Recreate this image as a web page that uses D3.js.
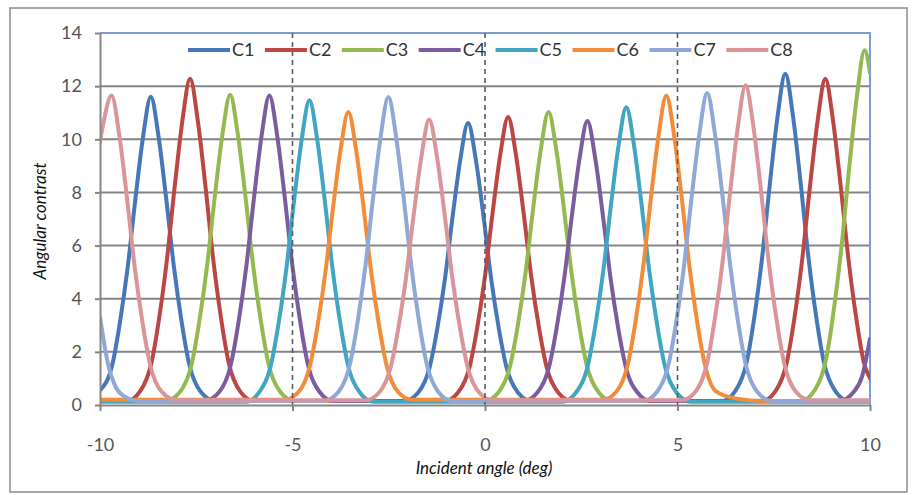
<!DOCTYPE html>
<html><head><meta charset="utf-8">
<script src="https://cdn.jsdelivr.net/npm/d3@7"></script>
<style>
body{margin:0;background:#fff;}
svg{display:block;}
text{font-family:Lato,"Open Sans",sans-serif;}
</style>
</head><body>
<svg id="chart" width="913" height="495"></svg>
<script>
// ---- data ----
const seriesNames = ["C1","C2","C3","C4","C5","C6","C7","C8"];
const xTicks = [-10,-5,0,5,10];
const yTicks = [0,2,4,6,8,10,12,14];
const dashedAngles = [-5,0,5];
const xTitle = "Incident angle (deg)";
const yTitle = "Angular contrast";

const c1 = [[-10,0.55],[-9.68,1.52],[-9.48,3.13],[-9.28,5.19],[-9.08,7.76],[-8.88,10.11],[-8.68,11.6],[-8.48,10.11],[-8.28,7.76],[-8.08,5.19],[-7.88,3.13],[-7.68,1.52],[-7.38,0.49],[-7.0,0.15],[-2.1,0.15],
[-1.74,0.46],[-1.44,1.41],[-1.24,2.87],[-1.04,4.75],[-0.84,7.11],[-0.64,9.25],[-0.44,10.61],[-0.24,9.25],[-0.04,7.11],[0.16,4.75],[0.36,2.87],[0.56,1.41],[0.86,0.46],[1.2,0.15],[6.15,0.15],
[6.50,0.52],[6.80,1.63],[7.00,3.35],[7.20,5.57],[7.40,8.34],[7.60,10.87],[7.80,12.47],[8.00,10.87],[8.20,8.34],[8.40,5.57],[8.60,3.35],[8.80,1.63],[9.10,0.52],[9.45,0.15],[10,0.15]];

const c2 = [[-10,0.15],[-9.3,0.15],[-8.96,0.51],[-8.66,1.61],[-8.46,3.30],[-8.26,5.49],[-8.06,8.22],[-7.86,10.70],[-7.66,12.28],[-7.46,10.70],[-7.26,8.22],[-7.06,5.49],[-6.86,3.30],[-6.66,1.61],[-6.36,0.51],[-6.0,0.15],
[-1.05,0.15],[-0.70,0.47],[-0.40,1.43],[-0.20,2.93],[0.00,4.85],[0.20,7.26],[0.40,9.45],[0.60,10.84],[0.80,9.45],[1.00,7.26],[1.20,4.85],[1.40,2.93],[1.60,1.43],[1.90,0.47],[2.25,0.15],
[7.2,0.15],[7.54,0.51],[7.84,1.61],[8.04,3.30],[8.24,5.49],[8.44,8.22],[8.64,10.70],[8.84,12.28],[9.04,10.70],[9.24,8.22],[9.44,5.49],[9.64,3.30],[9.84,1.61],[10,1.0]];

const c3 = [[-10,0.15],[-8.3,0.15],[-7.92,0.50],[-7.62,1.53],[-7.42,3.15],[-7.22,5.22],[-7.02,7.82],[-6.82,10.18],[-6.62,11.68],[-6.42,10.18],[-6.22,7.82],[-6.02,5.22],[-5.82,3.15],[-5.62,1.53],[-5.32,0.50],[-4.95,0.15],
[0.0,0.15],[0.35,0.48],[0.65,1.46],[0.85,2.98],[1.05,4.94],[1.25,7.39],[1.45,9.62],[1.65,11.03],[1.85,9.62],[2.05,7.39],[2.25,4.94],[2.45,2.98],[2.65,1.46],[2.95,0.48],[3.3,0.15],
[8.2,0.15],[8.56,0.55],[8.86,1.73],[9.06,3.58],[9.26,5.96],[9.46,8.93],[9.66,11.63],[9.86,13.35],[10,12.5]];

const c4 = [[-10,0.15],[-7.3,0.15],[-6.90,0.50],[-6.60,1.53],[-6.40,3.14],[-6.20,5.21],[-6.00,7.80],[-5.80,10.16],[-5.60,11.65],[-5.40,10.16],[-5.20,7.80],[-5.00,5.21],[-4.80,3.14],[-4.60,1.53],[-4.30,0.50],[-3.95,0.15],
[1.0,0.15],[1.36,0.47],[1.66,1.41],[1.86,2.89],[2.06,4.79],[2.26,7.16],[2.46,9.32],[2.66,10.69],[2.86,9.32],[3.06,7.16],[3.26,4.79],[3.46,2.89],[3.66,1.41],[3.96,0.47],[4.3,0.15],
[9.2,0.15],[9.58,0.5],[9.8,1.1],[10,2.5]];

const c5 = [[-10,0.12],[-6.2,0.12],[-5.86,0.49],[-5.56,1.51],[-5.36,3.09],[-5.16,5.13],[-4.96,7.68],[-4.76,10.00],[-4.56,11.47],[-4.36,10.00],[-4.16,7.68],[-3.96,5.13],[-3.76,3.09],[-3.56,1.51],[-3.26,0.49],[-2.9,0.12],
[2.0,0.12],[2.37,0.48],[2.67,1.48],[2.87,3.03],[3.07,5.02],[3.27,7.50],[3.47,9.77],[3.67,11.21],[3.87,9.77],[4.07,7.50],[4.27,5.02],[4.47,3.03],[4.67,1.48],[4.97,0.48],[5.35,0.12],[10,0.12]];

const c6 = [[-10,0.2],[-5.2,0.2],[-4.85,0.48],[-4.55,1.46],[-4.35,2.98],[-4.15,4.94],[-3.95,7.39],[-3.75,9.62],[-3.55,11.03],[-3.35,9.62],[-3.15,7.39],[-2.95,4.94],[-2.75,2.98],[-2.55,1.46],[-2.25,0.48],[-1.9,0.2],
[3.05,0.2],[3.41,0.50],[3.71,1.53],[3.91,3.14],[4.11,5.21],[4.31,7.80],[4.51,10.16],[4.71,11.65],[4.91,10.16],[5.11,7.80],[5.31,5.21],[5.51,3.14],[5.71,1.53],[6.01,0.50],[6.5,0.25],[7.3,0.15],[10,0.15]];

const c7 = [[-10,3.3],[-9.8,1.6],[-9.6,0.7],[-9.4,0.35],[-9.0,0.15],[-4.2,0.15],
[-3.81,0.49],[-3.51,1.52],[-3.31,3.12],[-3.11,5.18],[-2.91,7.76],[-2.71,10.10],[-2.51,11.59],[-2.31,10.10],[-2.11,7.76],[-1.91,5.18],[-1.71,3.12],[-1.51,1.52],[-1.21,0.49],[-0.85,0.15],
[4.1,0.15],[4.47,0.50],[4.77,1.54],[4.97,3.16],[5.17,5.25],[5.37,7.86],[5.57,10.23],[5.77,11.74],[5.97,10.23],[6.17,7.86],[6.37,5.25],[6.57,3.16],[6.77,1.54],[7.07,0.50],[7.45,0.15],[10,0.15]];

const c8 = [[-10,9.9],[-9.90,10.7],[-9.70,11.65],[-9.50,10.16],[-9.30,7.80],[-9.10,5.21],[-8.90,3.14],[-8.70,1.53],[-8.40,0.50],[-8.0,0.18],
[-3.1,0.18],[-2.75,0.47],[-2.45,1.42],[-2.25,2.90],[-2.05,4.81],[-1.85,7.19],[-1.65,9.36],[-1.45,10.74],[-1.25,9.36],[-1.05,7.19],[-0.85,4.81],[-0.65,2.90],[-0.45,1.42],[-0.15,0.47],[0.2,0.18],
[5.1,0.18],[5.47,0.51],[5.77,1.58],[5.97,3.24],[6.17,5.38],[6.37,8.05],[6.57,10.49],[6.77,12.03],[6.97,10.49],[7.17,8.05],[7.37,5.38],[7.57,3.24],[7.77,1.58],[8.07,0.51],[8.45,0.18],[10,0.18]];

const seriesValues = [c1,c2,c3,c4,c5,c6,c7,c8];

// ---- styles ----
const colors = ["#4677B8","#BC4643","#94B94F","#7A5C9F","#40A6C3","#F28C39","#8FA8D6","#D99598"];
const W = 913, H = 495;
const plot = {left:100, right:870, top:33, bottom:405};

const svg = d3.select("#chart");
svg.append("rect").attr("width",W).attr("height",H).attr("fill","#fff");
// outer chart border
svg.append("rect").attr("x",10).attr("y",8).attr("width",897).attr("height",484)
  .attr("fill","none").attr("stroke","#8c8c8c").attr("stroke-width",1.5);

const x = d3.scaleLinear().domain([-10,10]).range([plot.left, plot.right]);
const y = d3.scaleLinear().domain([0,14]).range([plot.bottom, plot.top]);

// gridlines
svg.append("g").selectAll("line").data(yTicks.filter(v=>v>0 && v<14)).join("line")
  .attr("x1",plot.left).attr("x2",plot.right)
  .attr("y1",d=>y(d)).attr("y2",d=>y(d))
  .attr("stroke","#858585").attr("stroke-width",2);

// plot area top/right border (blue)
svg.append("path")
  .attr("d",`M${plot.left},${y(14)}H${plot.right}V${plot.bottom}`)
  .attr("fill","none").attr("stroke","#7A9CCE").attr("stroke-width",2);

// clip
svg.append("clipPath").attr("id","clip").append("rect")
  .attr("x",plot.left).attr("y",plot.top-10).attr("width",plot.right-plot.left).attr("height",plot.bottom-plot.top+12);

const line = d3.line().x(d=>x(d[0])).y(d=>y(d[1])).curve(d3.curveMonotoneX);
svg.append("g").attr("clip-path","url(#clip)")
  .selectAll("path").data(seriesValues).join("path")
  .attr("d",line).attr("fill","none")
  .attr("stroke",(d,i)=>colors[i]).attr("stroke-width",4)
  .attr("stroke-linejoin","round").attr("stroke-linecap","round");

// dashed lines
svg.append("g").selectAll("line").data(dashedAngles).join("line")
  .attr("x1",d=>x(d)).attr("x2",d=>x(d))
  .attr("y1",y(14)).attr("y2",y(0))
  .attr("stroke","#5a5a5a").attr("stroke-width",1.6).attr("stroke-dasharray","5,4");

// axes
const yAxis = svg.append("g").attr("transform",`translate(${plot.left},0)`)
  .call(d3.axisLeft(y).tickValues(yTicks).tickSize(5).tickSizeOuter(0).tickPadding(13).tickFormat(d=>String(d)));
const xAxis = svg.append("g").attr("transform",`translate(0,${plot.bottom})`)
  .call(d3.axisBottom(x).tickValues(xTicks).tickSize(6).tickSizeOuter(0).tickPadding(27).tickFormat(d=>String(d)));
[yAxis,xAxis].forEach(a=>{
  a.selectAll("path,line").attr("stroke","#858585").attr("stroke-width",2);
  a.selectAll("text").attr("fill","#555").style("font-size","18px");
});

// axis titles
svg.append("text").attr("x",484).attr("y",474).attr("text-anchor","middle")
  .style("font-size","17px").style("font-style","italic").attr("fill","#111").text(xTitle);
svg.append("text").attr("transform","translate(46,221) rotate(-90)").attr("text-anchor","middle")
  .style("font-size","17px").style("font-style","italic").attr("fill","#111").text(yTitle);

// legend
const lg = svg.append("g").selectAll("g").data(seriesNames).join("g")
  .attr("transform",(d,i)=>`translate(${188+i*76.9},50)`);
lg.append("line").attr("x1",0).attr("x2",42).attr("stroke",(d,i)=>colors[i]).attr("stroke-width",4);
lg.append("text").attr("x",44).attr("dy","0.35em").style("font-size","18px").attr("fill","#333").text(d=>d);
</script>
</body></html>
